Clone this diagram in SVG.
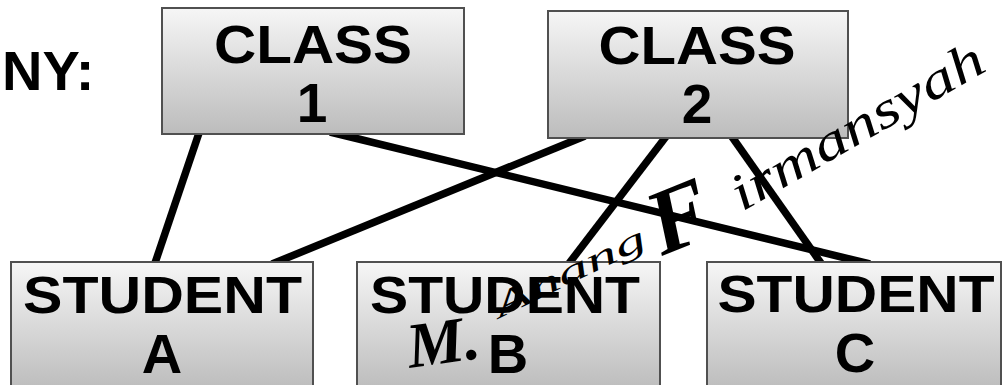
<svg xmlns="http://www.w3.org/2000/svg" width="1002" height="385" viewBox="0 0 1002 385">
  <defs>
    <linearGradient id="boxGrad" x1="0" y1="0" x2="0" y2="1">
      <stop offset="0" stop-color="#f6f6f6"/>
      <stop offset="1" stop-color="#bcbcbc"/>
    </linearGradient>
    <style>
      .box { fill: url(#boxGrad); stroke: #505050; stroke-width: 2; }
      .lbl { font-family: "Liberation Sans", Arial, sans-serif; font-weight: bold; fill: #000; text-anchor: middle; }
      .conn { stroke: #000; stroke-width: 7.5; fill: none; }
      .sig { font-family: "Liberation Serif", "DejaVu Serif", serif; font-style: italic; fill: #000; }
    </style>
  </defs>
  <rect width="1002" height="385" fill="#fff"/>

  <text id="title" x="2" y="90" font-family="Liberation Sans, Arial, sans-serif" font-weight="bold" font-size="56">NY:</text>

  <g id="connectors">
    <line class="conn" x1="200" y1="130" x2="154" y2="266"/>
    <line class="conn" x1="330" y1="132" x2="870" y2="264"/>
    <line class="conn" x1="585" y1="136" x2="272" y2="264"/>
    <line class="conn" x1="668" y1="134" x2="567" y2="266"/>
    <line class="conn" x1="730" y1="134" x2="823" y2="266"/>
  </g>

  <g id="class1">
    <rect class="box" x="162" y="8" width="302" height="126"/>
    <text class="lbl" x="313" y="63" font-size="54" textLength="198" lengthAdjust="spacingAndGlyphs">CLASS</text>
    <text class="lbl" x="312" y="122" font-size="55">1</text>
  </g>

  <g id="class2">
    <rect class="box" x="548" y="11" width="300" height="127"/>
    <text class="lbl" x="697" y="64" font-size="53" textLength="197" lengthAdjust="spacingAndGlyphs">CLASS</text>
    <text class="lbl" x="697" y="123" font-size="55">2</text>
  </g>

  <g id="studentA">
    <rect class="box" x="11" y="262" width="302" height="128"/>
    <text class="lbl" x="162.5" y="313" font-size="52" textLength="279" lengthAdjust="spacingAndGlyphs">STUDENT</text>
    <text class="lbl" x="162" y="373" font-size="56">A</text>
  </g>

  <g id="studentB">
    <rect class="box" x="357" y="262" width="303" height="128"/>
    <text class="lbl" x="505" y="313" font-size="52" textLength="270" lengthAdjust="spacingAndGlyphs">STUDENT</text>
    <text class="lbl" x="508" y="373" font-size="56">B</text>
  </g>

  <g id="studentC">
    <rect class="box" x="707" y="262" width="294" height="128"/>
    <text class="lbl" x="856" y="312" font-size="52" textLength="277" lengthAdjust="spacingAndGlyphs">STUDENT</text>
    <text class="lbl" x="855" y="372" font-size="56">C</text>
  </g>

  <g id="signature">
    <text class="sig" x="410" y="368" font-size="64" font-weight="bold" transform="rotate(-8 410 368)">M.</text>
    <text class="sig" x="500" y="318" font-size="34" textLength="165" lengthAdjust="spacingAndGlyphs" transform="rotate(-26 500 318)">Anang</text>
    <text class="sig" x="662" y="256" font-size="92" font-weight="bold" transform="rotate(-22 662 256)">F</text>
    <text class="sig" x="742" y="212" font-size="52" textLength="285" lengthAdjust="spacingAndGlyphs" transform="rotate(-30 742 212)">irmansyah</text>
  </g>
</svg>
